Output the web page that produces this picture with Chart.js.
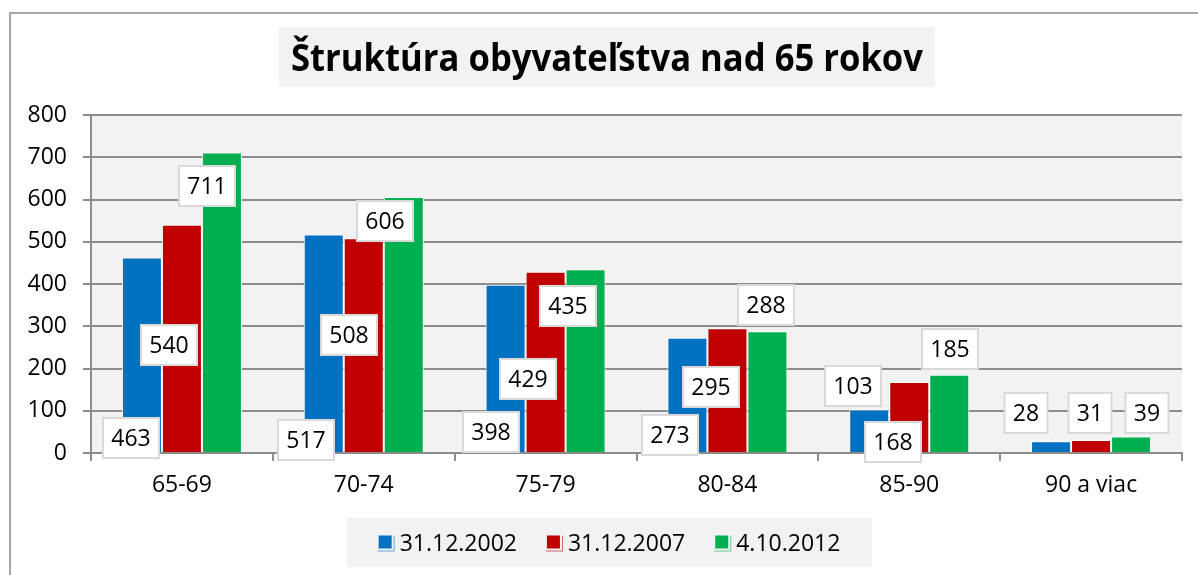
<!DOCTYPE html>
<html><head><meta charset="utf-8">
<script src="https://cdn.jsdelivr.net/npm/chart.js@4.4.0/dist/chart.umd.min.js"></script>
<style>html,body{margin:0;padding:0;background:#fff;overflow:hidden}</style>
</head><body>
<canvas id="c" width="1198" height="575"></canvas>
<script>
const titleText = 'Štruktúra obyvateľstva nad 65 rokov';
const categories = ['65-69', '70-74', '75-79', '80-84', '85-90', '90 a viac'];
const seriesNames = ['31.12.2002', '31.12.2007', '4.10.2012'];
const values2002 = [463, 517, 398, 273, 103, 28];
const values2007 = [540, 508, 429, 295, 168, 31];
const values2012 = [711, 606, 435, 288, 185, 39];
const yTicks = [0, 100, 200, 300, 400, 500, 600, 700, 800];

// where each data label box sits (value units) and its sideways shift (px)
const labelAt2002 = [36, 31, 50, 43, 159, 95];
const labelAt2007 = [256, 279, 175, 156, 26, 95];
const labelAt2012 = [632, 549, 348, 350, 246, 95];
const labelShift2002 = [-11, -18, -15, -17, -16, -25];
const labelShift2007 = [-13, -15, -18, -16, -16, -1];
const labelShift2012 = [-15, -19, -18, -1, 1, 16];

const colors = ['#0070c0', '#c00000', '#00b050'];
const FONT = "'Open Sans', 'Liberation Sans', sans-serif";
const FS = 23;
const GRID = '#8c8c8c';

const labelAt = [labelAt2002, labelAt2007, labelAt2012];
const labelShift = [labelShift2002, labelShift2007, labelShift2012];

const decor = {
  id: 'decor',
  beforeDraw(chart) {
    const { ctx, chartArea: a } = chart;
    ctx.save();
    ctx.fillStyle = '#fff';
    ctx.fillRect(0, 0, chart.width, chart.height);
    // outer frame
    ctx.strokeStyle = '#a6a6a6';
    ctx.lineWidth = 2;
    ctx.beginPath();
    ctx.moveTo(10, chart.height + 2);
    ctx.lineTo(10, 13);
    ctx.lineTo(chart.width + 2, 13);
    ctx.stroke();
    // plot background
    ctx.fillStyle = '#f2f2f2';
    ctx.fillRect(a.left, a.top, a.right - a.left, a.bottom - a.top);
    // title box + title
    const tw = 632, cx = 607;
    ctx.fillStyle = '#f2f2f2';
    ctx.fillRect(cx - tw / 2 - 12, 27, tw + 24, 60);
    ctx.font = 'bold 37px ' + FONT;
    const mw = ctx.measureText(titleText).width;
    ctx.translate(cx, 71);
    ctx.scale(tw / mw, 1);
    ctx.fillStyle = '#000';
    ctx.textAlign = 'center';
    ctx.textBaseline = 'alphabetic';
    ctx.fillText(titleText, 0, 0);
    ctx.restore();
  },
  afterDatasetsDraw(chart) {
    const { ctx } = chart;
    const ys = chart.scales.y;
    ctx.save();
    ctx.font = FS + 'px ' + FONT;
    ctx.textAlign = 'center';
    ctx.textBaseline = 'middle';
    chart.data.datasets.forEach((ds, i) => {
      chart.getDatasetMeta(i).data.forEach((bar, j) => {
        const txt = String(ds.data[j]);
        const w = Math.round(ctx.measureText(txt).width + 17);
        const h = 40;
        const cx = Math.round(bar.x + labelShift[i][j]);
        const cy = Math.round(ys.getPixelForValue(labelAt[i][j]));
        ctx.fillStyle = '#fff';
        ctx.fillRect(cx - w / 2, cy - h / 2, w, h);
        ctx.strokeStyle = '#d9d9d9';
        ctx.lineWidth = 2;
        ctx.strokeRect(cx - w / 2, cy - h / 2, w, h);
        ctx.fillStyle = '#000';
        ctx.fillText(txt, cx, cy + 1);
      });
    });
    ctx.restore();
  },
  afterDraw(chart) {
    const { ctx } = chart;
    ctx.save();
    ctx.font = FS + 'px ' + FONT;
    const sq = 15, gap = 6, spacing = 30;
    const widths = chart.data.datasets.map(d => ctx.measureText(d.label).width);
    const total = widths.reduce((s, w) => s + sq + gap + w, 0) + spacing * (widths.length - 1);
    const bx = 347, bw = 525, by = 518, bh = 49;
    ctx.fillStyle = '#f2f2f2';
    ctx.fillRect(bx, by, bw, bh);
    let x = bx + bw / 2 - total / 2;
    const cy = by + bh / 2 + 2;
    ctx.textBaseline = 'middle';
    ctx.textAlign = 'left';
    chart.data.datasets.forEach((d, i) => {
      const c = d.backgroundColor;
      ctx.fillStyle = c;
      ctx.fillRect(x, cy - 9, sq - 2, sq - 2);
      ctx.strokeStyle = c;
      ctx.globalAlpha = 0.6;
      ctx.lineWidth = 1;
      ctx.beginPath();
      ctx.moveTo(x - 1, cy + 6.5);
      ctx.lineTo(x + sq + 0.5, cy + 6.5);
      ctx.lineTo(x + sq + 0.5, cy - 9);
      ctx.stroke();
      ctx.globalAlpha = 1;
      ctx.fillStyle = '#000';
      ctx.fillText(d.label, x + sq + gap, cy);
      x += sq + gap + widths[i] + spacing;
    });
    ctx.restore();
  }
};

new Chart(document.getElementById('c'), {
  type: 'bar',
  data: {
    labels: categories,
    datasets: [
      { label: seriesNames[0], data: values2002, backgroundColor: colors[0] },
      { label: seriesNames[1], data: values2007, backgroundColor: colors[1] },
      { label: seriesNames[2], data: values2012, backgroundColor: colors[2] }
    ].map(d => Object.assign(d, { borderColor: '#ffffff', borderWidth: 1, categoryPercentage: 0.66, barPercentage: 1 }))
  },
  options: {
    responsive: false,
    animation: false,
    layout: { padding: { left: 10, top: 115, right: 16, bottom: 72 } },
    plugins: { legend: { display: false }, title: { display: false }, tooltip: { enabled: false } },
    scales: {
      x: {
        grid: { display: true, drawOnChartArea: false, drawTicks: true, tickLength: 8, color: GRID, lineWidth: 2, offset: true },
        border: { display: true, color: GRID, width: 2 },
        ticks: { font: { family: FONT, size: FS }, color: '#000', padding: 11, maxRotation: 0 },
        afterFit(s) { s.height = 50; }
      },
      y: {
        min: 0, max: 800,
        afterBuildTicks(s) { s.ticks = yTicks.map(v => ({ value: v })); },
        ticks: { font: { family: FONT, size: FS }, color: '#000', padding: 16 },
        grid: { color: GRID, lineWidth: 2, tickLength: 8 },
        border: { display: true, color: GRID, width: 2 },
        afterFit(s) { s.width = 81; }
      }
    }
  },
  plugins: [decor]
});
</script>
</body></html>
